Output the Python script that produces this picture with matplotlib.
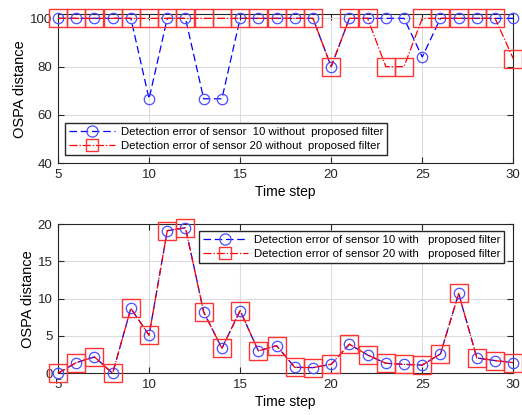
import matplotlib
matplotlib.use("Agg")
import matplotlib.pyplot as plt

plt.rcParams['font.family'] = ['Liberation Sans', 'DejaVu Sans']
plt.rcParams['font.size'] = 9.5

t = list(range(5, 31))

# without proposed filter
s10_wo = [100, 100, 100, 100, 100, 66.7, 100, 100, 66.7, 66.7, 100, 100, 100, 100, 100,
          80, 100, 100, 100, 100, 84, 100, 100, 100, 100, 100]
s20_wo = [100, 100, 100, 100, 100, 100, 100, 100, 100, 100, 100, 100, 100, 100, 100,
          80, 100, 100, 80, 80, 100, 100, 100, 100, 100, 83.3]

# with proposed filter
s10_w = [0, 1.43, 2.2, 0, 8.7, 5.1, 19.1, 19.5, 8.2, 3.35, 8.4, 3.0, 3.7, 0.8, 0.76,
         1.2, 3.9, 2.45, 1.34, 1.2, 1.1, 2.6, 10.7, 2.05, 1.7, 1.43]
s20_w = s10_w

lab_top = ["Detection error of sensor  10 without  proposed filter",
           "Detection error of sensor 20 without  proposed filter"]
lab_bot = ["Detection error of sensor 10 with   proposed filter",
           "Detection error of sensor 20 with   proposed filter"]

fig = plt.figure(figsize=(5.22, 4.15), dpi=100)
W, H = 522, 415
ax1 = fig.add_axes([58 / W, 1 - 163.3 / H, 455.3 / W, 149.3 / H])
ax2 = fig.add_axes([58 / W, 1 - 373.3 / H, 455.3 / W, 149.3 / H])

for ax, a, b, labs in [(ax1, s10_wo, s20_wo, lab_top), (ax2, s10_w, s20_w, lab_bot)]:
    ax.plot(t, a, '--', color='blue', lw=0.9, marker='o', ms=7.5, mfc='none',
            mec=(0.3, 0.3, 1.0), mew=0.9, label=labs[0], dashes=(6, 3), clip_on=False, zorder=3)
    ax.plot(t, b, '-.', color='red', lw=0.9, marker='s', ms=12.5, mfc='none',
            mec=(1.0, 0.2, 0.2), mew=1.0, label=labs[1], clip_on=False, zorder=4)
    ax.set_xlim(5, 30)
    ax.set_xticks(range(5, 31, 5))
    ax.grid(True, color='#dcdcdc', lw=0.8)
    ax.set_axisbelow(True)
    ax.tick_params(direction='in', length=4, width=0.8, colors='#262626', labelsize=9.5,
                   top=True, right=True, pad=4)
    for sp in ax.spines.values():
        sp.set_linewidth(0.8)
        sp.set_color('#262626')
    ax.set_xlabel("Time step", fontsize=10, labelpad=3)
    ax.set_ylabel("OSPA distance", fontsize=10.5, labelpad=2)

ax1.set_ylim(40, 101.8)
ax1.set_yticks([40, 60, 80, 100])
ax2.set_ylim(0, 20)
ax2.set_yticks([0, 5, 10, 15, 20])

leg_kw = dict(fancybox=False, edgecolor='#262626', fontsize=8.2, handlelength=4,
              borderpad=0.35, labelspacing=0.35, handletextpad=0.5,
              borderaxespad=0, framealpha=1)
leg1 = ax1.legend(loc='lower left', bbox_to_anchor=(0.016, 0.055), **leg_kw)
leg2 = ax2.legend(loc='upper right', bbox_to_anchor=(0.98, 0.95), **leg_kw)
for leg in (leg1, leg2):
    h = leg.legend_handles
    h[0].set_markersize(8)
    h[1].set_markersize(8)

fig.savefig("out.png", dpi=100)
